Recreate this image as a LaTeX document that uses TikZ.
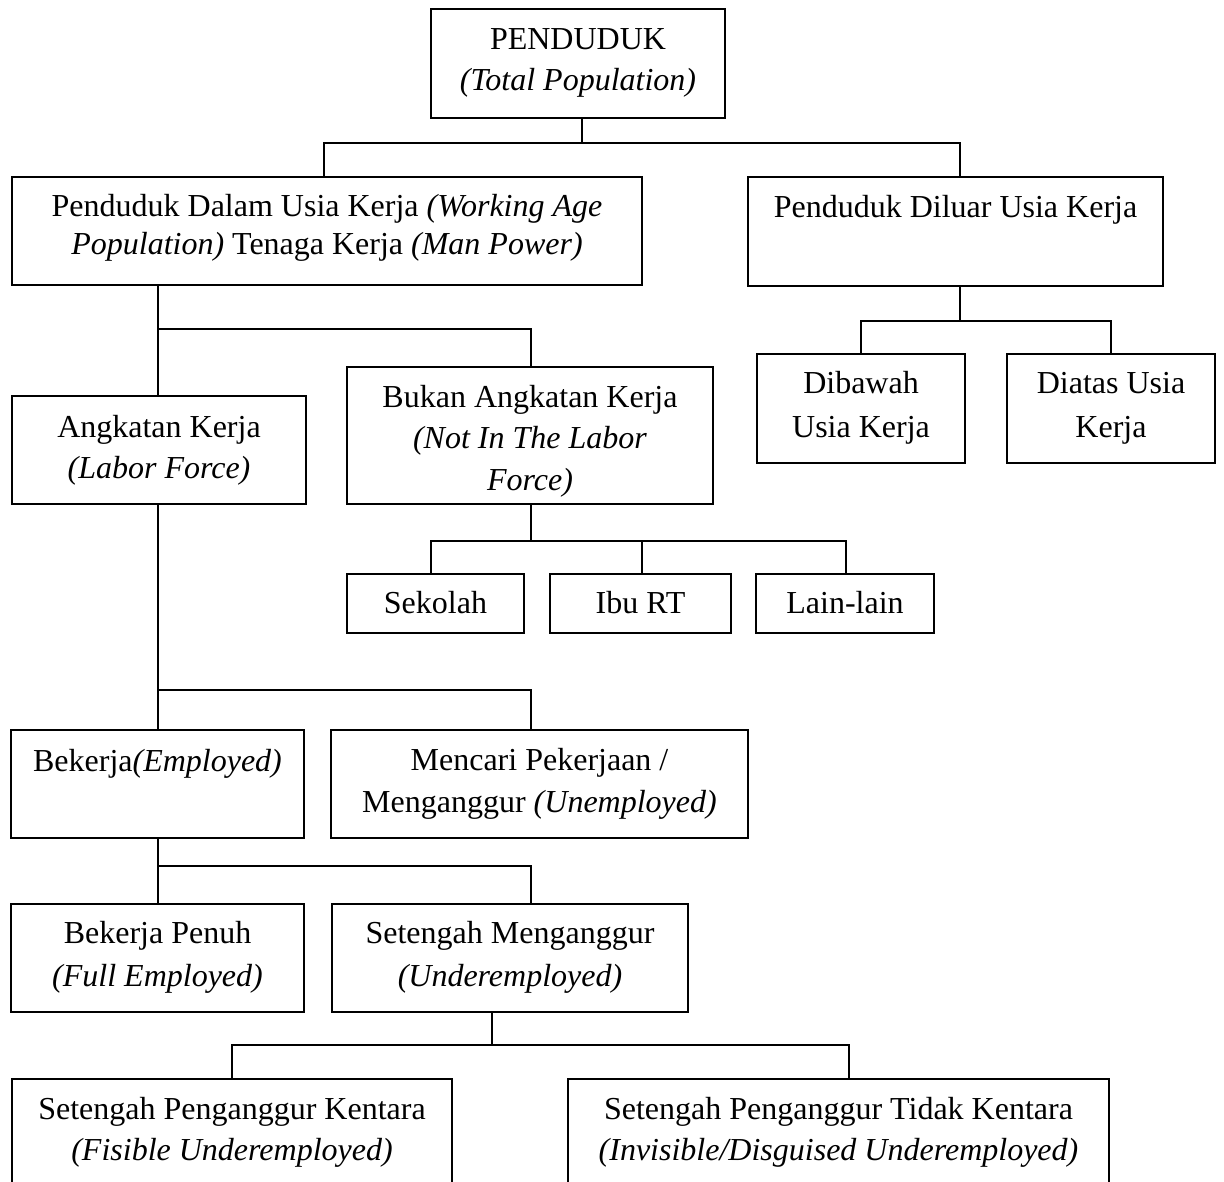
\documentclass[tikz,border=0pt]{standalone}
\usepackage{fontspec}
\setmainfont{Liberation Serif}
\begin{document}
\begin{tikzpicture}[x=1pt,y=-1pt,
  box/.style={draw, line width=1.6pt, inner sep=0pt, outer sep=0pt, fill=white},
  txt/.style={anchor=base, inner sep=0pt, font=\fontsize{32}{40}\selectfont},
  conn/.style={line width=1.6pt}]
\path[use as bounding box, fill=white] (0,0) rectangle (1224,1182);
\clip (0,0) rectangle (1224,1182);

% boxes
\node[box, minimum width=294pt, minimum height=109pt] (pend) at (578,63.5) {};
\node[box, minimum width=630pt, minimum height=108pt] (pdu) at (327,231) {};
\node[box, minimum width=415pt, minimum height=109pt] (pdl) at (955.5,231.5) {};
\node[box, minimum width=294pt, minimum height=108pt] (ak) at (159,450) {};
\node[box, minimum width=366pt, minimum height=137pt] (bak) at (530,435.5) {};
\node[box, minimum width=208pt, minimum height=109pt] (dib) at (861,408.5) {};
\node[box, minimum width=208pt, minimum height=109pt] (dia) at (1111,408.5) {};
\node[box, minimum width=177pt, minimum height=59pt] (sek) at (435.5,603.5) {};
\node[box, minimum width=181pt, minimum height=59pt] (ibu) at (640.5,603.5) {};
\node[box, minimum width=178pt, minimum height=59pt] (lain) at (845,603.5) {};
\node[box, minimum width=293pt, minimum height=108pt] (bek) at (157.5,784) {};
\node[box, minimum width=417pt, minimum height=108pt] (men) at (539.5,784) {};
\node[box, minimum width=293pt, minimum height=108pt] (bp) at (157.5,958) {};
\node[box, minimum width=356pt, minimum height=108pt] (sm) at (510,958) {};
\node[box, minimum width=440pt, minimum height=121pt] (spk) at (232,1139.5) {};
\node[box, minimum width=541pt, minimum height=121pt] (sptk) at (838.5,1139.5) {};

% junction levels
\coordinate (j1) at (582,143);
\coordinate (j2) at (158,329);
\coordinate (j3) at (960,321);
\coordinate (j4) at (531,541);
\coordinate (j5) at (158,690);
\coordinate (j6) at (158,866);
\coordinate (j7) at (492,1045);

% connectors
\draw[conn] ([xshift=4pt]pend.south) -- (j1);
\draw[conn] ([xshift=-3pt]pdu.north) |- (j1) -| ([xshift=4.5pt]pdl.north);
\draw[conn] ([xshift=-1pt]ak.north) -- ([xshift=-1pt]ak.north |- pdu.south);
\draw[conn] (j2) -| ([xshift=1pt]bak.north);
\draw[conn] (j3) -- (j3 |- pdl.south);
\draw[conn] (dib.north) |- (j3) -| (dia.north);
\draw[conn] ([xshift=1pt]bak.south) -- (j4);
\draw[conn] ([xshift=-4.5pt]sek.north) |- (j4) -| ([xshift=1pt]lain.north);
\draw[conn] ([xshift=1.5pt]ibu.north) -- ([xshift=1.5pt]ibu.north |- j4);
\draw[conn] ([xshift=-1pt]ak.south) -- ([xshift=0.5pt]bek.north);
\draw[conn] (j5) -| ([xshift=-8.5pt]men.north);
\draw[conn] ([xshift=0.5pt]bek.south) -- ([xshift=0.5pt]bp.north);
\draw[conn] (j6) -| ([xshift=21pt]sm.north);
\draw[conn] ([xshift=-18pt]sm.south) -- (j7);
\draw[conn] (spk.north) |- (j7) -| ([xshift=10.5pt]sptk.north);

% texts
\node[txt] (t1a) at (578,50) {PENDUDUK};
\node[txt] (t1b) at (578,91) {\textit{(Total Population)}};
\node[txt] (t2a) at (327,217) {Penduduk Dalam Usia Kerja \textit{(Working Age}};
\node[txt] (t2b) at (327,255) {\textit{Population)} Tenaga Kerja \textit{(Man Power)}};
\node[txt] (t3a) at (955.5,218) {Penduduk Diluar Usia Kerja};
\node[txt] (t4a) at (159,437) {Angkatan Kerja};
\node[txt] (t4b) at (159,478) {\textit{(Labor Force)}};
\node[txt] (t5a) at (530,407) {Bukan Angkatan Kerja};
\node[txt] (t5b) at (530,448) {\textit{(Not In The Labor}};
\node[txt] (t5c) at (530,490) {\textit{Force)}};
\node[txt] (t6a) at (861,393) {Dibawah};
\node[txt] (t6b) at (861,437) {Usia Kerja};
\node[txt] (t7a) at (1111,393) {Diatas Usia};
\node[txt] (t7b) at (1111,437) {Kerja};
\node[txt] (t8) at (435.5,613) {Sekolah};
\node[txt] (t9) at (640.5,613) {Ibu RT};
\node[txt] (t10) at (845,613) {Lain-lain};
\node[txt] (t11) at (157.5,771) {Bekerja\textit{(Employed)}};
\node[txt] (t12a) at (539.5,770) {Mencari Pekerjaan /};
\node[txt] (t12b) at (539.5,812) {Menganggur \textit{(Unemployed)}};
\node[txt] (t13a) at (157.5,943) {Bekerja Penuh};
\node[txt] (t13b) at (157.5,986) {\textit{(Full Employed)}};
\node[txt] (t14a) at (510,943) {Setengah Menganggur};
\node[txt] (t14b) at (510,986) {\textit{(Underemployed)}};
\node[txt] (t15a) at (232,1119) {Setengah Penganggur Kentara};
\node[txt] (t15b) at (232,1160) {\textit{(Fisible Underemployed)}};
\node[txt] (t16a) at (838.5,1119) {Setengah Penganggur Tidak Kentara};
\node[txt] (t16b) at (838.5,1160) {\textit{(Invisible/Disguised Underemployed)}};
\end{tikzpicture}
\end{document}
